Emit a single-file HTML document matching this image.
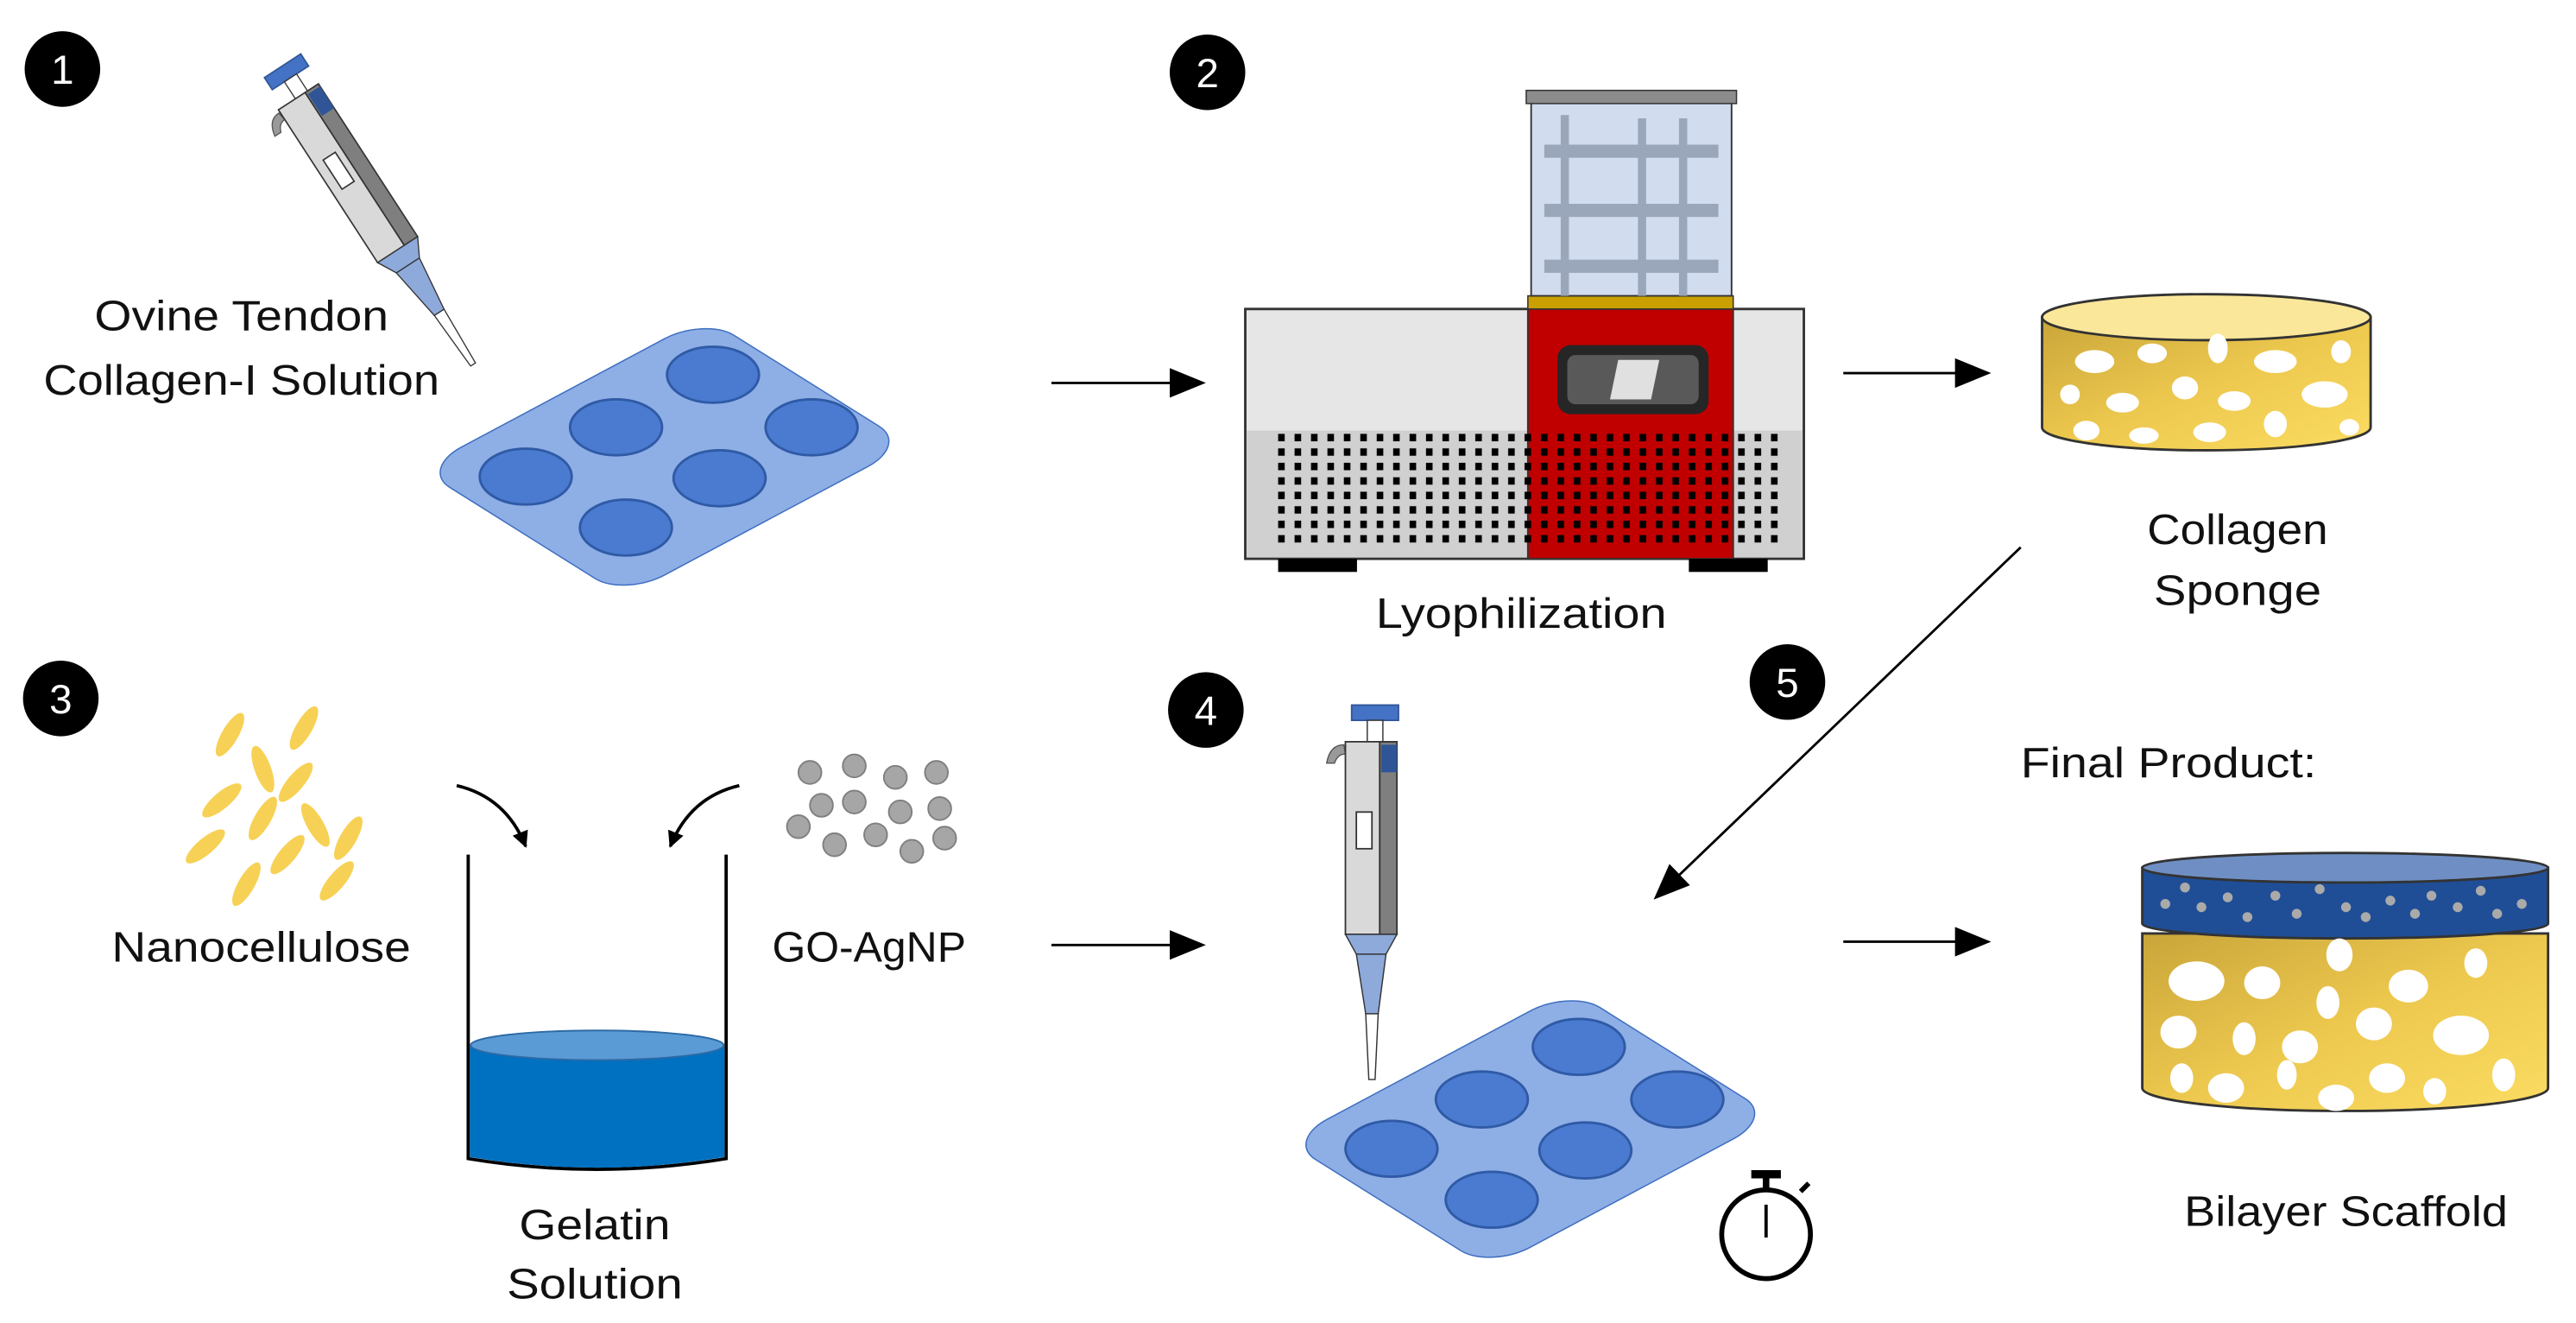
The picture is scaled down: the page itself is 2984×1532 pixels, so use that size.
<!DOCTYPE html>
<html><head><meta charset="utf-8"><style>html,body{margin:0;padding:0;background:#fff}svg{display:block}text{font-family:"Liberation Sans",sans-serif;font-size:26px;fill:#111}</style></head><body>
<svg width="2984" height="1532" viewBox="0 0 1568 805" xmlns="http://www.w3.org/2000/svg">
<defs>
<marker id="ah" markerWidth="10" markerHeight="10" refX="9" refY="5" orient="auto" markerUnits="userSpaceOnUse"><path d="M0,0 L10,5 L0,10 z" fill="#000"/></marker>
<marker id="ah2" markerWidth="22" markerHeight="22" refX="20" refY="11" orient="auto" markerUnits="userSpaceOnUse"><path d="M0,2 L22,11 L0,20 z" fill="#000"/></marker>
<linearGradient id="yg" x1="0" y1="0" x2="1" y2="1"><stop offset="0" stop-color="#c9a53a"/><stop offset="0.5" stop-color="#edc84e"/><stop offset="1" stop-color="#fbdc62"/></linearGradient>
<pattern id="dots" x="775" y="262" width="10" height="8.8" patternUnits="userSpaceOnUse"><rect x="3" y="2" width="4" height="4.5" fill="#000"/></pattern>
<g id="pip">
<rect x="-15" y="0" width="30" height="10" fill="#4472c4" stroke="#2f5597"/>
<rect x="-5" y="10" width="10" height="14" fill="#fff" stroke="#333" stroke-width="0.8"/>
<path d="M-20,26 q-9,0 -11,12 l5,0 q2,-6 7,-6z" fill="#999" stroke="#555" stroke-width="0.8"/>
<rect x="-19" y="24" width="22" height="126" fill="#d9d9d9" stroke="#333" stroke-width="1"/>
<rect x="3" y="24" width="11" height="126" fill="#7f7f7f" stroke="#333" stroke-width="1"/>
<rect x="4" y="26" width="10" height="18" fill="#2f5597"/>
<rect x="-12" y="70" width="10" height="24" fill="#fff" stroke="#333" stroke-width="1"/>
<path d="M-19,150 L14,150 L7,163 L-12,163z" fill="#8eaadb" stroke="#333" stroke-width="0.8"/>
<path d="M-12,163 L7,163 L2,202 L-6,202z" fill="#8eaadb" stroke="#333" stroke-width="0.8"/>
<path d="M-6,202 L2,202 L0,245 L-4,245z" fill="#fff" stroke="#333" stroke-width="0.8"/>
</g>
</defs>
<!-- numbers -->
<g>
<circle cx="38" cy="42" r="23" fill="#000"/><text x="38" y="51" text-anchor="middle" style="fill:#fff;font-size:25px">1</text>
<circle cx="735" cy="44" r="23" fill="#000"/><text x="735" y="53" text-anchor="middle" style="fill:#fff;font-size:25px">2</text>
<circle cx="37" cy="425" r="23" fill="#000"/><text x="37" y="434" text-anchor="middle" style="fill:#fff;font-size:25px">3</text>
<circle cx="734" cy="432" r="23" fill="#000"/><text x="734" y="441" text-anchor="middle" style="fill:#fff;font-size:25px">4</text>
<circle cx="1088" cy="415" r="23" fill="#000"/><text x="1088" y="424" text-anchor="middle" style="fill:#fff;font-size:25px">5</text>
</g>
<!-- step 1 -->
<use href="#pip" transform="translate(172,40) rotate(-33) scale(0.88)"/>
<rect x="-1.05" y="-1.05" width="2.1" height="2.1" rx="0.3" transform="matrix(82.5,-44,59,37,404.5,278)" fill="#8eaee6" stroke="#3f6fc0" stroke-width="1.5" vector-effect="non-scaling-stroke"/>
<g fill="#4a7bd0" stroke="#2f5aa5" stroke-width="1.5">
<ellipse cx="320" cy="290" rx="28" ry="17"/><ellipse cx="375" cy="260" rx="28" ry="17"/><ellipse cx="434" cy="228" rx="28" ry="17"/>
<ellipse cx="381" cy="321" rx="28" ry="17"/><ellipse cx="438" cy="291" rx="28" ry="17"/><ellipse cx="494" cy="260" rx="28" ry="17"/>
</g>
<text x="147" y="201" text-anchor="middle" textLength="179" lengthAdjust="spacingAndGlyphs">Ovine Tendon</text>
<text x="147" y="240" text-anchor="middle" textLength="241" lengthAdjust="spacingAndGlyphs">Collagen-I Solution</text>
<!-- arrows -->
<line x1="640" y1="233" x2="732" y2="233" stroke="#000" stroke-width="1.5" marker-end="url(#ah2)"/>
<line x1="1122" y1="227" x2="1210" y2="227" stroke="#000" stroke-width="1.5" marker-end="url(#ah2)"/>
<line x1="640" y1="575" x2="732" y2="575" stroke="#000" stroke-width="1.5" marker-end="url(#ah2)"/>
<line x1="1122" y1="573" x2="1210" y2="573" stroke="#000" stroke-width="1.5" marker-end="url(#ah2)"/>
<line x1="1230" y1="333" x2="1008" y2="546" stroke="#000" stroke-width="1.5" marker-end="url(#ah2)"/>
<!-- lyophilizer -->
<rect x="758" y="188" width="340" height="152" fill="#e6e6e6" stroke="#333" stroke-width="1.5"/>
<rect x="759" y="262" width="338" height="77" fill="#d0d0d0"/>
<rect x="930" y="188" width="125" height="152" fill="#c00000" stroke="#333" stroke-width="1"/>
<rect x="930" y="180" width="125" height="8" fill="#c9a000" stroke="#333" stroke-width="0.8"/>
<rect x="932" y="62" width="122" height="118" fill="#d1ddef" stroke="#333" stroke-width="1"/>
<rect x="929" y="55" width="128" height="8" fill="#8c8c8c" stroke="#333" stroke-width="0.8"/>
<g fill="#9aa7ba">
<rect x="940" y="88" width="106" height="8"/><rect x="940" y="124" width="106" height="8"/><rect x="940" y="158" width="106" height="8"/>
<rect x="950" y="70" width="5" height="110"/><rect x="997" y="72" width="5" height="108"/><rect x="1022" y="72" width="5" height="108"/>
</g>
<rect x="948" y="210" width="92" height="42" rx="8" fill="#262626"/>
<rect x="954" y="216" width="80" height="30" rx="5" fill="#595959"/>
<path d="M985,219 L1010,219 L1005,243 L980,243z" fill="#e0e0e0"/>
<rect x="775" y="262" width="310" height="71" fill="url(#dots)"/>
<rect x="778" y="340" width="48" height="8" fill="#000"/><rect x="1028" y="340" width="48" height="8" fill="#000"/>
<text x="926" y="382" text-anchor="middle" textLength="177" lengthAdjust="spacingAndGlyphs">Lyophilization</text>
<!-- collagen sponge -->
<path d="M1243,193 L1243,260 A100,14 0 0 0 1443,260 L1443,193z" fill="url(#yg)" stroke="#333" stroke-width="1.5"/>
<ellipse cx="1343" cy="193" rx="100" ry="14" fill="#fbe79a" stroke="#333" stroke-width="1.5"/>
<g fill="#fff">
<ellipse cx="1275" cy="220" rx="12" ry="7"/><ellipse cx="1310" cy="215" rx="9" ry="6"/><ellipse cx="1350" cy="212" rx="6" ry="9"/><ellipse cx="1385" cy="220" rx="13" ry="7"/><ellipse cx="1425" cy="214" rx="6" ry="7"/>
<ellipse cx="1260" cy="240" rx="6" ry="6"/><ellipse cx="1292" cy="245" rx="10" ry="6"/><ellipse cx="1330" cy="236" rx="8" ry="7"/><ellipse cx="1360" cy="244" rx="10" ry="6"/><ellipse cx="1415" cy="240" rx="14" ry="8"/>
<ellipse cx="1270" cy="262" rx="8" ry="6"/><ellipse cx="1305" cy="265" rx="9" ry="5"/><ellipse cx="1345" cy="263" rx="10" ry="6"/><ellipse cx="1385" cy="258" rx="7" ry="8"/><ellipse cx="1430" cy="260" rx="6" ry="5"/>
</g>
<text x="1362" y="331" text-anchor="middle" textLength="110" lengthAdjust="spacingAndGlyphs">Collagen</text>
<text x="1362" y="368" text-anchor="middle" textLength="102" lengthAdjust="spacingAndGlyphs">Sponge</text>
<!-- step 3 -->
<g fill="#f7d155">
<ellipse cx="140" cy="447" rx="5" ry="15" transform="rotate(30 140 447)"/>
<ellipse cx="185" cy="443" rx="5" ry="15" transform="rotate(30 185 443)"/>
<ellipse cx="160" cy="468" rx="5" ry="15" transform="rotate(-20 160 468)"/>
<ellipse cx="180" cy="476" rx="5" ry="15" transform="rotate(40 180 476)"/>
<ellipse cx="135" cy="487" rx="5" ry="15" transform="rotate(50 135 487)"/>
<ellipse cx="160" cy="498" rx="5" ry="15" transform="rotate(30 160 498)"/>
<ellipse cx="192" cy="502" rx="5" ry="15" transform="rotate(-30 192 502)"/>
<ellipse cx="125" cy="515" rx="5" ry="15" transform="rotate(50 125 515)"/>
<ellipse cx="175" cy="520" rx="5" ry="15" transform="rotate(40 175 520)"/>
<ellipse cx="212" cy="510" rx="5" ry="15" transform="rotate(30 212 510)"/>
<ellipse cx="150" cy="538" rx="5" ry="15" transform="rotate(30 150 538)"/>
<ellipse cx="205" cy="536" rx="5" ry="15" transform="rotate(40 205 536)"/>
</g>
<text x="159" y="585" text-anchor="middle" textLength="182" lengthAdjust="spacingAndGlyphs">Nanocellulose</text>
<g fill="#a6a6a6" stroke="#7f7f7f">
<circle cx="493" cy="470" r="7"/><circle cx="520" cy="466" r="7"/><circle cx="545" cy="473" r="7"/><circle cx="570" cy="470" r="7"/>
<circle cx="500" cy="490" r="7"/><circle cx="520" cy="488" r="7"/><circle cx="548" cy="494" r="7"/><circle cx="572" cy="492" r="7"/>
<circle cx="486" cy="503" r="7"/><circle cx="508" cy="514" r="7"/><circle cx="533" cy="508" r="7"/><circle cx="555" cy="518" r="7"/><circle cx="575" cy="510" r="7"/>
</g>
<text x="529" y="585" text-anchor="middle" textLength="118" lengthAdjust="spacingAndGlyphs">GO-AgNP</text>
<path d="M278,478 Q308,485 320,515" fill="none" stroke="#000" stroke-width="2" marker-end="url(#ah)"/>
<path d="M450,478 Q420,485 408,515" fill="none" stroke="#000" stroke-width="2" marker-end="url(#ah)"/>
<path d="M285,520 L285,705 Q363,718 442,705 L442,520" fill="none" stroke="#000" stroke-width="2"/>
<path d="M286,636 L286,704 Q363,717 441,704 L441,636z" fill="#0070c0"/>
<ellipse cx="363.5" cy="636" rx="77" ry="9" fill="#5b9bd5" stroke="#2e6aa5"/>
<text x="362" y="754" text-anchor="middle" textLength="92" lengthAdjust="spacingAndGlyphs">Gelatin</text>
<text x="362" y="790" text-anchor="middle" textLength="107" lengthAdjust="spacingAndGlyphs">Solution</text>
<!-- step 4 -->
<use href="#pip" transform="translate(837,429) scale(0.95,0.93)"/>
<rect x="-1.05" y="-1.05" width="2.1" height="2.1" rx="0.3" transform="matrix(82.5,-44,59,37,931.5,687)" fill="#8eaee6" stroke="#3f6fc0" stroke-width="1.5" vector-effect="non-scaling-stroke"/>
<g fill="#4a7bd0" stroke="#2f5aa5" stroke-width="1.5">
<ellipse cx="847" cy="699" rx="28" ry="17"/><ellipse cx="902" cy="669" rx="28" ry="17"/><ellipse cx="961" cy="637" rx="28" ry="17"/>
<ellipse cx="908" cy="730" rx="28" ry="17"/><ellipse cx="965" cy="700" rx="28" ry="17"/><ellipse cx="1021" cy="669" rx="28" ry="17"/>
</g>
<circle cx="1075" cy="751" r="27" fill="none" stroke="#000" stroke-width="3"/>
<rect x="1066" y="712" width="18" height="5" fill="#000"/><rect x="1073" y="716" width="4" height="8" fill="#000"/>
<line x1="1096" y1="725" x2="1101" y2="720" stroke="#000" stroke-width="3"/>
<line x1="1075" y1="733" x2="1075" y2="753" stroke="#000" stroke-width="2"/>
<!-- final -->
<text x="1320" y="473" text-anchor="middle" textLength="180" lengthAdjust="spacingAndGlyphs">Final Product:</text>
<path d="M1304,568 L1304,662 A123.5,14 0 0 0 1551,662 L1551,568z" fill="url(#yg)" stroke="#333" stroke-width="1.5"/>
<path d="M1304,528 L1304,562 A123.5,9 0 0 0 1551,562 L1551,528z" fill="#1f4e96" stroke="#333" stroke-width="1.5"/>
<ellipse cx="1427.5" cy="528" rx="123.5" ry="9" fill="#6f8fc4" stroke="#333" stroke-width="1.5"/>
<g fill="#aaa">
<circle cx="1318" cy="550" r="3"/><circle cx="1330" cy="540" r="3"/><circle cx="1340" cy="552" r="3"/><circle cx="1356" cy="546" r="3"/><circle cx="1368" cy="558" r="3"/><circle cx="1385" cy="545" r="3"/><circle cx="1398" cy="556" r="3"/><circle cx="1412" cy="541" r="3"/><circle cx="1428" cy="552" r="3"/><circle cx="1440" cy="558" r="3"/><circle cx="1455" cy="548" r="3"/><circle cx="1470" cy="556" r="3"/><circle cx="1480" cy="545" r="3"/><circle cx="1496" cy="552" r="3"/><circle cx="1510" cy="542" r="3"/><circle cx="1520" cy="556" r="3"/><circle cx="1535" cy="550" r="3"/>
</g>
<g fill="#fff">
<ellipse cx="1337" cy="597" rx="17" ry="12"/><ellipse cx="1377" cy="598" rx="11" ry="10"/><ellipse cx="1424" cy="581" rx="8" ry="10"/><ellipse cx="1417" cy="610" rx="7" ry="10"/><ellipse cx="1466" cy="600" rx="12" ry="10"/><ellipse cx="1507" cy="586" rx="7" ry="9"/>
<ellipse cx="1326" cy="628" rx="11" ry="10"/><ellipse cx="1366" cy="632" rx="7" ry="10"/><ellipse cx="1400" cy="637" rx="11" ry="10"/><ellipse cx="1445" cy="623" rx="11" ry="10"/><ellipse cx="1498" cy="630" rx="17" ry="12"/>
<ellipse cx="1328" cy="656" rx="7" ry="9"/><ellipse cx="1355" cy="662" rx="11" ry="9"/><ellipse cx="1392" cy="654" rx="6" ry="9"/><ellipse cx="1422" cy="668" rx="11" ry="8"/><ellipse cx="1453" cy="656" rx="11" ry="9"/><ellipse cx="1482" cy="664" rx="7" ry="8"/><ellipse cx="1524" cy="654" rx="7" ry="10"/>
</g>
<text x="1428" y="746" text-anchor="middle" textLength="197" lengthAdjust="spacingAndGlyphs">Bilayer Scaffold</text>
</svg>
</body></html>
